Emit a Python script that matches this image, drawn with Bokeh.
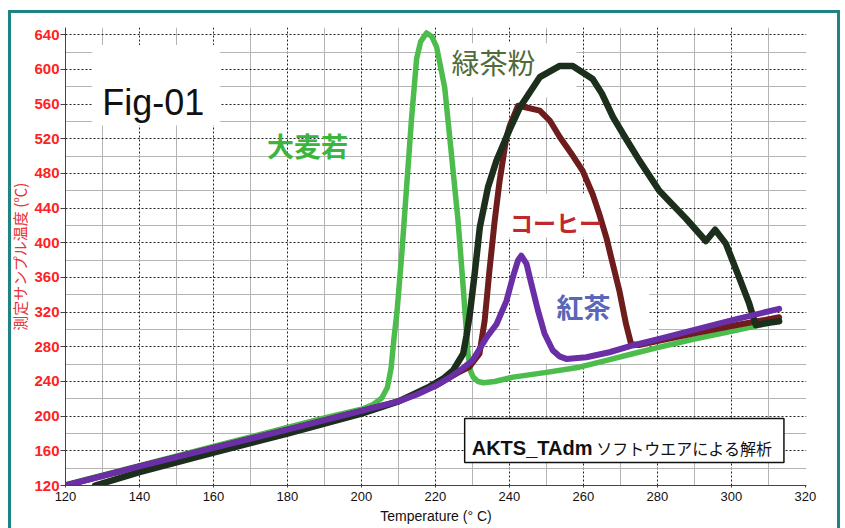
from bokeh.plotting import figure
from bokeh.models import FixedTicker
from bokeh.core.properties import value
from bokeh.embed import file_html
from bokeh.resources import INLINE

# ---- tick values ----
x_ticks = [120, 140, 160, 180, 200, 220, 240, 260, 280, 300, 320]
y_ticks = [120, 160, 200, 240, 280, 320, 360, 400, 440, 480, 520, 560, 600, 640]
x_grid_major = [140, 160, 180, 200, 220, 240, 260, 280, 300]
x_grid_minor = [130, 150, 170, 190, 210, 230, 250, 270, 290, 310]
y_grid_major = [160, 200, 240, 280, 320, 360, 400, 440, 480, 520, 560, 600, 640]
y_grid_minor = [140, 180, 220, 260, 300, 340, 380, 420, 460, 500, 540, 580, 620]

# ---- series (temperature of furnace vs. sample temperature) ----
barley_x = [120, 140, 160, 180, 190, 200, 203, 205.5, 207, 208, 208.8, 209.6, 210.9, 212.2,
            213.5, 214.9, 216, 217.6, 219, 220.3, 222.5, 224.3, 226.1, 227.5, 228.8, 229.5,
            230.2, 231.5, 233, 236, 241, 250, 258.9, 266, 273.3, 280, 290, 300, 310]
barley_y = [121, 143, 165, 187, 198, 208, 213, 221, 233, 255, 290, 320, 387, 464,
            541, 612, 632, 642, 638, 626, 579, 503, 426, 349, 272, 252,
            245, 240, 238.5, 240, 245, 250.5, 256.5, 264, 272, 279, 289, 298, 307]

green_tea_x = [128, 140, 160, 180, 200, 210, 218.4, 222, 224.8, 227.5, 228.4, 229.3, 230.6,
               232, 234.2, 236.5, 240.1, 242.8, 248.2, 253.6, 257.1, 262.5, 265, 268, 271.5,
               275.1, 280.5, 287.7, 293.1, 295.6, 298.5, 302.1, 304.8, 305.8, 306.6, 309, 312.9]
green_tea_y = [120, 135.5, 158, 180, 203, 217, 234, 243, 253, 272, 293, 318, 364,
               418, 464, 495, 531, 556, 591, 604, 604, 589, 572, 545, 520,
               495, 460, 428, 402, 415, 399, 360, 330, 316, 305, 307, 309.5]

coffee_x = [120, 140, 160, 180, 200, 210, 220, 226, 229.2, 231.9, 233.3, 234.6, 236, 237.3,
            239.2, 240.1, 242.3, 244.6, 248.2, 250.9, 253.6, 257.1, 259.8, 262.5, 264.3,
            266.2, 267.9, 269.7, 271.5, 272.9, 275, 280, 290, 300, 312.9]
coffee_y = [120, 142, 163.5, 184.5, 206, 217, 235, 250, 257, 272, 310, 368, 425, 470,
            522, 535, 558, 556, 552.5, 541, 522, 500.6, 483, 456, 433,
            406, 376, 345, 306.5, 283, 282, 286.5, 295.5, 304, 314]

black_tea_x = [120, 140, 160, 180, 200, 210, 215, 220, 224, 227, 230, 232, 234, 236.5, 239.2,
               240.9, 242.3, 243.2, 244.6, 245.9, 247.7, 249.5, 251.7, 253.5, 255.4, 260.8,
               267, 273.3, 280.5, 290, 300, 312.9]
black_tea_y = [120, 142, 163.5, 184.5, 206, 217, 225, 235, 245, 254, 264, 278, 292, 306, 333,
               360, 379.5, 385, 376, 353, 322, 295, 276, 269, 266, 268,
               273.7, 281.5, 289.2, 299.5, 310.5, 323.8]

# ---- annotation texts ----
fig_title = "Fig-01"
series_names = ["大麦若", "緑茶粉", "コーヒー", "紅茶"]
note_bold = "AKTS_TAdm"
note_rest = "ソフトウエアによる解析"

# ---- layout (data-space placement of labels / boxes) ----
white_left = [127.2, 221.2, 235.5, 242.6]
white_right = [161.8, 258.1, 269.6, 277.8]
white_top = [628, 630, 456.8, 359.9]
white_bottom = [535.2, 567.5, 406, 260.7]
note_box = dict(left=227.9, right=314.2, top=197.3, bottom=146.5)

teal = "#1f8383"
frame_css = (
    f"linear-gradient({teal},{teal}) 8px 10px / 3px 600px no-repeat, "
    f"linear-gradient({teal},{teal}) 8px 10px / 832px 3px no-repeat, "
    f"linear-gradient({teal},{teal}) 837px 10px / 3px 600px no-repeat, "
    "#ffffff"
)

p = figure(width=845, height=528, x_range=(120, 320.3), y_range=(120, 648.3),
           output_backend="svg", toolbar_location=None,
           min_border_left=65, min_border_right=39, min_border_top=27, min_border_bottom=43)
p.styles = {"background": frame_css}
p.outline_line_color = None
p.background_fill_color = "white"
p.border_fill_color = None

# grids
p.xgrid.ticker = FixedTicker(ticks=x_grid_major, minor_ticks=x_grid_minor)
p.ygrid.ticker = FixedTicker(ticks=y_grid_major, minor_ticks=y_grid_minor)
for g in (p.xgrid, p.ygrid):
    g.grid_line_color = "#222222"
    g.grid_line_dash = "2 2"
    g.grid_line_width = 1
    g.minor_grid_line_color = "#b4b4b4"
    g.minor_grid_line_width = 1

# axes
p.xaxis.ticker = FixedTicker(ticks=x_ticks)
p.yaxis.ticker = FixedTicker(ticks=y_ticks)
for ax in (p.xaxis, p.yaxis):
    ax.axis_line_color = "#444444"
    ax.major_tick_line_color = "#444444"
    ax.minor_tick_line_color = None
    ax.major_tick_in = 0

p.xaxis.major_tick_out = 2
p.xaxis.major_label_standoff = 4
p.xaxis.major_label_text_font = "Liberation Sans"
p.xaxis.major_label_text_font_size = "13px"
p.xaxis.major_label_text_color = "#111111"
p.xaxis.axis_label = "Temperature (° C)"
p.xaxis.axis_label_text_font = "Liberation Sans"
p.xaxis.axis_label_text_font_size = "14px"
p.xaxis.axis_label_text_font_style = "normal"
p.xaxis.axis_label_text_color = "#111111"
p.xaxis.axis_label_standoff = 4

p.yaxis.major_tick_out = 5
p.yaxis.major_label_standoff = 1
p.yaxis.major_label_text_font = "Liberation Sans"
p.yaxis.major_label_text_font_style = "bold"
p.yaxis.major_label_text_font_size = "15px"
p.yaxis.major_label_text_color = "#ff2222"
p.yaxis.axis_label = "測定サンプル温度 (℃)"
p.yaxis.axis_label_text_font = "Noto Sans CJK JP"
p.yaxis.axis_label_text_font_size = "15px"
p.yaxis.axis_label_text_font_style = "normal"
p.yaxis.axis_label_text_color = "#e8333a"
p.yaxis.axis_label_standoff = 1

# white patches behind labels
p.quad(left=white_left, right=white_right, top=white_top, bottom=white_bottom,
       fill_color="white", line_color=None)

# curves
p.line(barley_x, barley_y, color="#4cbc4c", line_width=5.5, line_join="round", line_cap="round")
p.line(coffee_x, coffee_y, color="#6e1c1c", line_width=6, line_join="round", line_cap="round")
p.line(green_tea_x, green_tea_y, color="#1c2e1c", line_width=6.5, line_join="round", line_cap="round")
p.line(black_tea_x, black_tea_y, color="#6a2ea6", line_width=6, line_join="round", line_cap="round")

# note box
p.quad(left=[note_box["left"]], right=[note_box["right"]], top=[note_box["top"]],
       bottom=[note_box["bottom"]], fill_color="white", line_color="#111111", line_width=1.5)
p.text(x=[229.8], y=[163.8], text=[note_bold], text_font=value("Liberation Sans"),
       text_font_style="bold", text_font_size="20px", text_color="#111111",
       text_align="left", text_baseline="alphabetic")
p.text(x=[263.5], y=[163.8], text=[note_rest], text_font=value("Noto Sans CJK JP"),
       text_font_size="16px", text_color="#111111",
       text_align="left", text_baseline="alphabetic")

# figure tag
p.text(x=[129.96], y=[561.8], text=[fig_title], text_font=value("Liberation Sans"),
       text_font_size="36px", text_color="#111111", text_align="left", text_baseline="alphabetic")

# series labels
label_x = [185.4, 235.7, 252.6, 260.0]
label_y = [512.2, 608.5, 424.5, 327.0]
label_colors = ["#3cb53c", "#4f6b3a", "#c0282e", "#5a66b8"]
label_sizes = ["27px", "28px", "23px", "27px"]
label_styles = ["bold", "normal", "bold", "bold"]
for i in range(4):
    p.text(x=[label_x[i]], y=[label_y[i]], text=[series_names[i]],
           text_font=value("Noto Sans CJK JP"), text_font_size=label_sizes[i],
           text_font_style=label_styles[i], text_color=label_colors[i],
           text_align="center", text_baseline="middle")

open("out.html", "w").write(file_html(p, INLINE))
